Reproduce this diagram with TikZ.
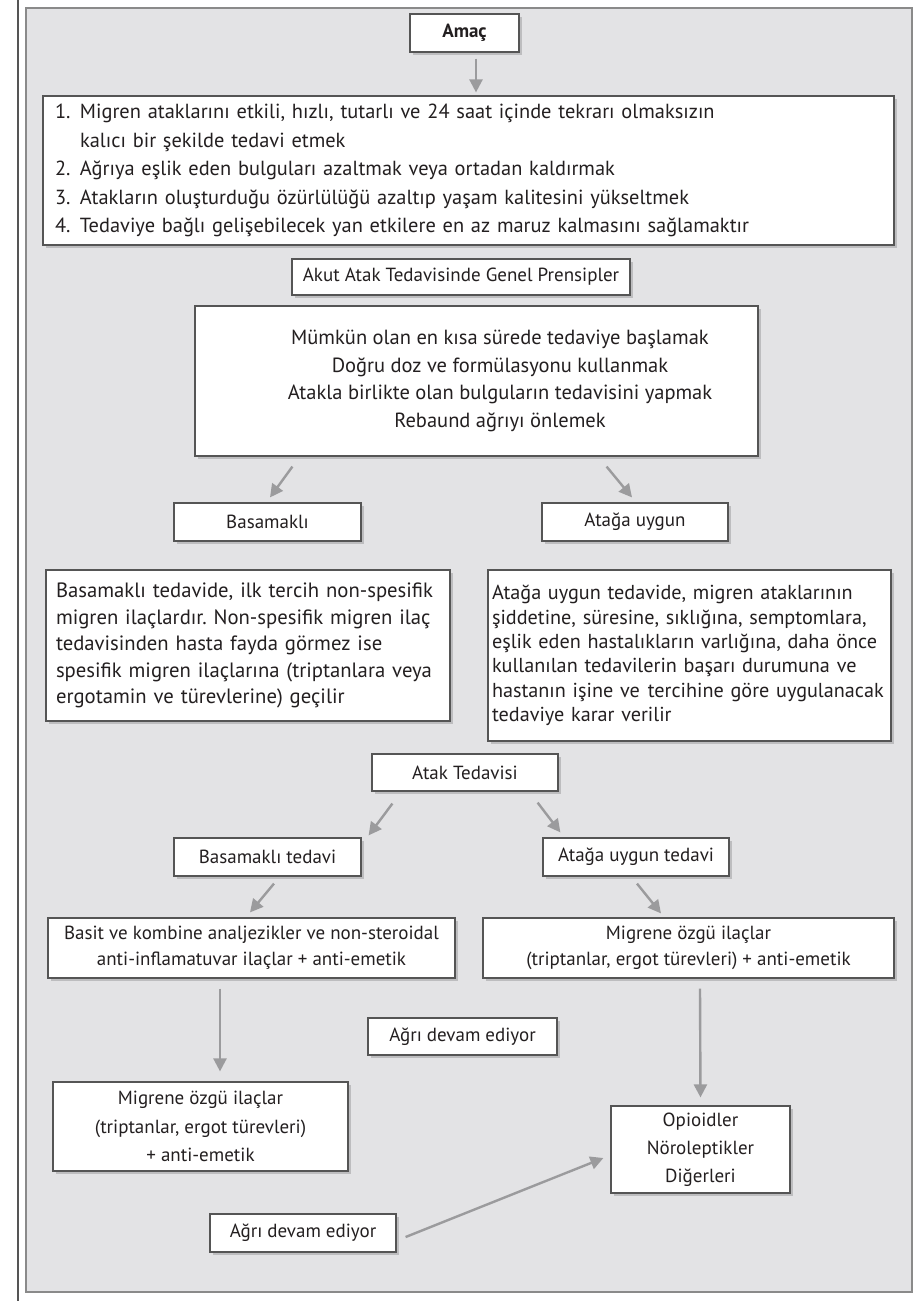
\documentclass[tikz,border=0pt]{standalone}
\usepackage{fontspec}
\setmainfont{PT Sans}
\usepackage{tikz}
\usetikzlibrary{arrows.meta,shadows}
\definecolor{panelgray}{HTML}{E3E3E5}
\definecolor{panelline}{HTML}{8A8A8A}
\definecolor{boxline}{HTML}{555555}
\definecolor{arrowgray}{HTML}{9B9B9D}
\definecolor{shadowgray}{HTML}{BDBDBF}
\definecolor{inkgray}{HTML}{231F20}
\frenchspacing

\begin{document}
\begin{tikzpicture}[x=1pt,y=-1pt,
  box/.style={rectangle,draw=boxline,line width=1.2pt,fill=white,inner sep=0pt,
    text=inkgray,font=\fontsize{19}{27}\selectfont,
    drop shadow={shadow xshift=3pt,shadow yshift=-3pt,fill=shadowgray,opacity=1}},
  flow/.style={draw=arrowgray,line width=2.4pt,-{Triangle[length=13pt,width=13pt]}}]
\useasboundingbox (0,0) rectangle (915,1301);
\path [draw=panelline,line width=1.5pt,fill=panelgray] (26,8) rectangle (912,1292);
\path [draw=boxline,line width=1.5pt] (18,0) -- (18,1301);
\node (amac)  at (464.5,33)   [box,minimum width=109,minimum height=38] {\bfseries Amaç};
\node (goals) at (468.5,170.5) [box,minimum width=851,minimum height=149,inner xsep=12pt,
    text width=827,align=left,font=\fontsize{20.4}{28.5}\selectfont]
  {\makebox[25pt][l]{1.}Migren ataklarını etkili, hızlı, tutarlı ve 24 saat içinde tekrarı olmaksızın\\
   \hspace*{25pt}kalıcı bir şekilde tedavi etmek\\
   \makebox[25pt][l]{2.}Ağrıya eşlik eden bulguları azaltmak veya ortadan kaldırmak\\
   \makebox[25pt][l]{3.}Atakların oluşturduğu özürlülüğü azaltıp yaşam kalitesini yükseltmek\\
   \makebox[25pt][l]{4.}Tedaviye bağlı gelişebilecek yan etkilere en az maruz kalmasını sağlamaktır};
\node (akut)  at (461,277)    [box,minimum width=338,minimum height=36] {Akut Atak Tedavisinde Genel Prensipler};
\node (prin)  at (476.5,381)  [box,minimum width=563,minimum height=150,align=center,
    font=\fontsize{20.5}{27.5}\selectfont]
  {\hspace*{47pt}Mümkün olan en kısa sürede tedaviye başlamak\\
   \hspace*{47pt}Doğru doz ve formülasyonu kullanmak\\
   \hspace*{47pt}Atakla birlikte olan bulguların tedavisini yapmak\\
   \hspace*{47pt}Rebaund ağrıyı önlemek};
\node (bas)   at (267.5,522)  [box,minimum width=187,minimum height=38] {Basamaklı};
\node (ata)   at (635,522)    [box,minimum width=186,minimum height=38] {Atağa uygun};
\node (bastext) at (248,645.5) [box,minimum width=404,minimum height=151,inner xsep=10pt,
    text width=384,align=left,font=\fontsize{20.7}{26.5}\selectfont]
  {Basamaklı tedavide, ilk tercih non-spesifik\\
   migren ilaçlardır. Non-spesifik migren ilaç\\
   tedavisinden hasta fayda görmez ise\\
   spesifik migren ilaçlarına (triptanlara veya\\
   ergotamin ve türevlerine) geçilir};
\node (atatext) at (689.5,655.5) [box,minimum width=403,minimum height=171,inner xsep=4pt,
    text width=395,align=left,font=\fontsize{20.2}{24.3}\selectfont]
  {Atağa uygun tedavide, migren ataklarının\\
   şiddetine, süresine, sıklığına, semptomlara,\\
   eşlik eden hastalıkların varlığına, daha önce\\
   kullanılan tedavilerin başarı durumuna ve\\
   \mbox{hastanın işine ve\hspace{8pt}tercihine göre uygulanacak}\\
   tedaviye karar verilir};
\node (atak)  at (465,772.5)  [box,minimum width=186,minimum height=37] {Atak Tedavisi};
\node (bastedavi) at (267.5,857) [box,minimum width=187,minimum height=38] {Basamaklı tedavi};
\node (atatedavi) at (636,857)   [box,minimum width=186,minimum height=38] {Atağa uygun tedavi};
\node (basit) at (251.5,948)  [box,minimum width=407,minimum height=60,align=center,
    font=\fontsize{19}{26}\selectfont]
  {Basit ve kombine analjezikler ve non-steroidal\\anti-inflamatuvar ilaçlar + anti-emetik};
\node (migrene1) at (688.5,948) [box,minimum width=411,minimum height=60,align=center,
    font=\fontsize{19}{26}\selectfont]
  {Migrene özgü ilaçlar\\(triptanlar, ergot türevleri) + anti-emetik};
\node (agri1) at (462.5,1036.5) [box,minimum width=189,minimum height=37] {Ağrı devam ediyor};
\node (migrene2) at (200.5,1126.5) [box,minimum width=295,minimum height=89,align=center,
    font=\fontsize{19}{28.5}\selectfont]
  {Migrene özgü ilaçlar\\(triptanlar, ergot türevleri)\\+ anti-emetik};
\node (opioid) at (700.5,1149.5) [box,minimum width=179,minimum height=87,align=center,
    font=\fontsize{19}{28}\selectfont]
  {Opioidler\\Nöroleptikler\\Diğerleri};
\node (agri2) at (303,1233)   [box,minimum width=186,minimum height=38] {Ağrı devam ediyor};
\draw [flow] ([xshift=11.5pt,yshift=-6pt]amac.south) -- ([xshift=11.5pt,yshift=3pt]amac.south |- goals.north);
\draw [flow] ([xshift=98pt,yshift=-10pt]prin.south west) -- ([xshift=2.5pt,yshift=5pt]bas.north);
\draw [flow] ([xshift=-152pt,yshift=-10pt]prin.south east) -- ([xshift=-3pt,yshift=5pt]ata.north);
\draw [flow] ([xshift=21pt,yshift=-12pt]atak.south west) -- ([xshift=7pt,yshift=2pt]bastedavi.north east);
\draw [flow] ([xshift=-21pt,yshift=-11pt]atak.south east) -- ([xshift=18pt,yshift=5pt]atatedavi.north west);
\draw [flow] ([xshift=6.5pt,yshift=-7pt]bastedavi.south) -- ([xshift=-1.5pt,yshift=5pt]basit.north);
\draw [flow] ([xshift=1pt,yshift=-7pt]atatedavi.south) -- ([xshift=-27.5pt,yshift=4pt]migrene1.north);
\draw [flow] ([xshift=-31.5pt,yshift=-10pt]basit.south) -- ([xshift=19.5pt,yshift=10pt]migrene2.north);
\draw [flow] ([xshift=11.5pt,yshift=-10pt]migrene1.south) -- ([yshift=8pt]opioid.north);
\draw [flow] ([xshift=9pt,yshift=-4pt]agri2.east) -- ([xshift=-7pt,yshift=-8.5pt]opioid.west);
\end{tikzpicture}
\end{document}
